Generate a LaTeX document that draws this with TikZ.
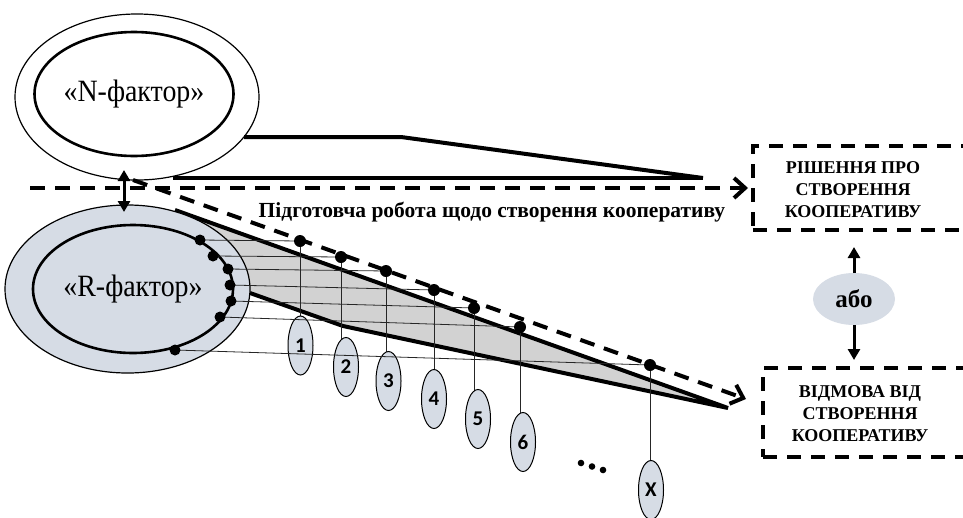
\documentclass[tikz,border=0pt]{standalone}
\usepackage{fontspec}
\setmainfont{Liberation Serif}
\newfontfamily\tallserif[FakeStretch=0.9]{Liberation Serif}
\newfontfamily\numfont{Carlito}
\usetikzlibrary{shapes.geometric,arrows.meta}
\definecolor{bluegrey}{HTML}{D6DCE5}
\definecolor{wedgegrey}{HTML}{D2D2D2}
\begin{document}
\begin{tikzpicture}[x=1pt,y=-1pt,
  ell/.style={ellipse,inner sep=0pt,outer sep=0pt},
  outerell/.style={ell,draw,line width=1.2pt},
  innerell/.style={ell,draw,line width=2.6pt},
  heavy/.style={line width=4pt},
  dashline/.style={line width=4pt,dash pattern=on 15pt off 10pt,
     -{Straight Barb[length=11pt,width=20pt,line width=4pt]}},
  boxstyle/.style={draw,line width=3.5pt,dash pattern=on 14pt off 10pt,
     inner sep=0pt,outer sep=0pt,anchor=north west},
  numell/.style={ell,draw,fill=bluegrey,line width=1pt,minimum width=25pt,
     minimum height=59pt,font=\numfont\bfseries\fontsize{21}{21}\selectfont},
  thin/.style={line width=0.8pt,black!85},
  solidarrow/.style={line width=3pt,-{Triangle[length=11pt,width=12pt]}},
  boxtext/.style={align=center,font=\bfseries\fontsize{18}{22}\selectfont},
  bigtext/.style={font=\tallserif\fontsize{31}{31}\selectfont}
]
\useasboundingbox (0,0) rectangle (963,517);
\clip (0,0) rectangle (963,517);

% grey wedge
\fill[wedgegrey] (175,210) -- (728,408) -- (343,326) -- (250,293) -- (200,260) -- cycle;
\draw[heavy] (175,210) -- (728,408) -- (343,326) -- (250,293);

% white wedge
\draw[heavy] (244,137) -- (401,137) -- (703,178);
\draw[heavy] (173,178) -- (703,178);

% N-factor
\node[outerell,minimum width=244pt,minimum height=166pt] (Nout) at (137,97) {};
\node[innerell,minimum width=198pt,minimum height=124pt,bigtext] (Nin) at (134,94) {«N-фактор»};

% R-factor
\node[outerell,fill=bluegrey,minimum width=245pt,minimum height=168pt] (Rout) at (127.5,289) {};
\node[innerell,fill=bluegrey,minimum width=200pt,minimum height=128pt,bigtext] (Rin) at (133,289) {«R-фактор»};

% points
\coordinate (r1) at (200,240);
\coordinate (r2) at (213,256);
\coordinate (r3) at (228,269);
\coordinate (r4) at (230,285);
\coordinate (r5) at (231,301);
\coordinate (r6) at (220,317);
\coordinate (r7) at (175,350);
\coordinate (t1) at (300,241);
\coordinate (t2) at (341,257);
\coordinate (t3) at (386,271);
\coordinate (t4) at (434,290);
\coordinate (t5) at (474,308);
\coordinate (t6) at (520,327);
\coordinate (t7) at (650,365);

% vertical lines
\foreach \i/\x/\y in {1/300.5/345.5,2/346/367,3/388.5/381,4/434/399,5/478/419,6/523/442,7/651/490}{
  \draw[thin] (t\i) -- (t\i |- {(\x,\y)});
}

% numbered ellipses
\node[numell] (e1) at (300.5,345.5) {1};
\node[numell] (e2) at (346,367) {2};
\node[numell] (e3) at (388.5,381) {3};
\node[numell] (e4) at (434,399) {4};
\node[numell] (e5) at (478,419) {5};
\node[numell] (e6) at (523,442) {6};
\node[numell] (e7) at (651,490) {X};

% horizontal thin lines
\foreach \i in {1,...,7}{ \draw[thin] (r\i) -- (t\i); }

% dots
\foreach \i in {1,...,7}{ \fill (r\i) circle (5.5pt); \fill (t\i) circle (6pt); }
\fill (581,463) circle (3.3pt);
\fill (592,466.5) circle (3.3pt);
\fill (603,470) circle (3.3pt);

% boxes
\node[boxstyle,minimum width=225pt,minimum height=84pt] (box1) at (753,146) {};
\node[boxstyle,minimum width=215pt,minimum height=89pt] (box2) at (763,368) {};
\node[boxtext] (b1t) at (853,190) {РІШЕННЯ ПРО\\СТВОРЕННЯ\\КООПЕРАТИВУ};
\node[boxtext] (b2t) at (860,414) {ВІДМОВА ВІД\\СТВОРЕННЯ\\КООПЕРАТИВУ};

% dashed arrows
\coordinate (hs) at (30,188);
\coordinate (ss) at (133,180);
\draw[dashline,shorten >=5pt] (hs) -- (hs -| box1.west);
\coordinate (se) at (746,399);
\draw[dashline] (ss) -- (se);
\node[font=\bfseries\fontsize{21.5}{21.5}\selectfont] (lbl) at (492,212)
  {Підготовча робота щодо створення кооперативу};

% N-R arrow
\coordinate (nr1) at (124,170);
\coordinate (nr2) at (124,212);
\draw[line width=3pt,{Triangle[length=11pt,width=12pt]}-{Triangle[length=11pt,width=12pt]}] (nr1) -- (nr2);

% або
\node[ell,fill=bluegrey,minimum width=82pt,minimum height=52pt,
      font=\bfseries\fontsize{25}{25}\selectfont] (abo) at (854,299) {або};
\draw[solidarrow,shorten >=17pt] (abo.north) -- (abo.north |- box1.south);
\draw[solidarrow,shorten >=8pt] (abo.south) -- (abo.south |- box2.north);
\end{tikzpicture}
\end{document}
